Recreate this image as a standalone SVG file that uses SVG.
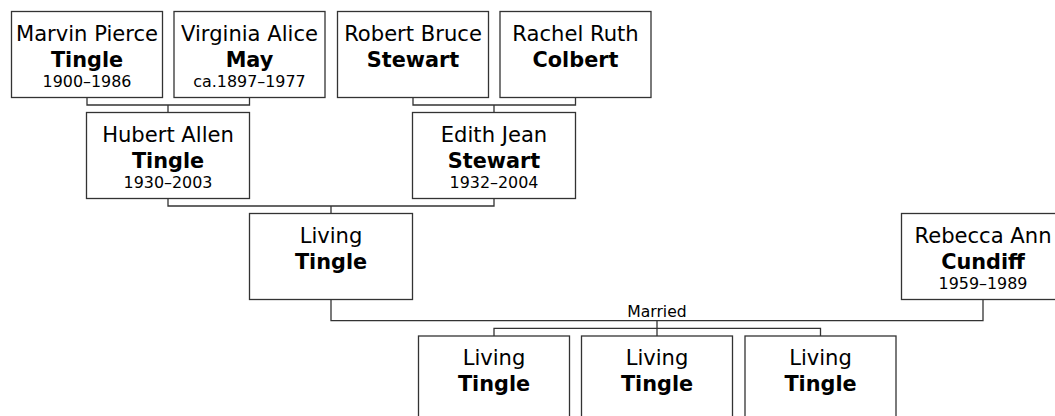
<svg xmlns="http://www.w3.org/2000/svg" width="1055" height="416" viewBox="0 0 1055 416">
<style>
.box{fill:#fff;stroke:#333;stroke-width:1.3}
.ln{fill:none;stroke:#333;stroke-width:1.3}
text{font-family:"DejaVu Sans",Verdana,sans-serif;fill:#000;text-anchor:middle}
.n{font-size:21.1px}
.s{font-size:20.8px;font-weight:bold}
.d{font-size:15.9px}
.m{font-size:15.6px}
</style>
<rect width="1055" height="416" fill="#fff"/>
<g id="connectors">
<path class="ln" d="M87 97.5V105H249.5V97.5M168 105V112.5"/>
<path class="ln" d="M413 97.5V105H575.5V97.5M494 105V112.5"/>
<path class="ln" d="M168 198.5V206H494V198.5M331 206V213.5"/>
<path class="ln" d="M331 299.5V320.7H983V299.5"/>
<path class="ln" d="M657 320.7V336M494 336V328.3H820.5V336"/>
<text class="m" x="657" y="316.5">Married</text>
</g>
<g id="marvin">
<rect class="box" x="11.5" y="11.5" width="151" height="86"/>
<text class="n" x="87" y="40.7">Marvin Pierce</text>
<text class="s" x="87" y="66.8">Tingle</text>
<text class="d" x="87" y="87.2">1900–1986</text>
</g>
<g id="virginia">
<rect class="box" x="174" y="11.5" width="151" height="86"/>
<text class="n" x="249.5" y="40.7">Virginia Alice</text>
<text class="s" x="249.5" y="66.8">May</text>
<text class="d" x="249.5" y="87.2">ca.1897–1977</text>
</g>
<g id="robert">
<rect class="box" x="337.5" y="11.5" width="151" height="86"/>
<text class="n" x="413" y="40.7">Robert Bruce</text>
<text class="s" x="413" y="66.8">Stewart</text>
</g>
<g id="rachel">
<rect class="box" x="500" y="11.5" width="151" height="86"/>
<text class="n" x="575.5" y="40.7">Rachel Ruth</text>
<text class="s" x="575.5" y="66.8">Colbert</text>
</g>
<g id="hubert">
<rect class="box" x="86.5" y="112.5" width="163" height="86"/>
<text class="n" x="168" y="141.7">Hubert Allen</text>
<text class="s" x="168" y="167.8">Tingle</text>
<text class="d" x="168" y="188.2">1930–2003</text>
</g>
<g id="edith">
<rect class="box" x="412.5" y="112.5" width="163" height="86"/>
<text class="n" x="494" y="141.7">Edith Jean</text>
<text class="s" x="494" y="167.8">Stewart</text>
<text class="d" x="494" y="188.2">1932–2004</text>
</g>
<g id="living">
<rect class="box" x="249.5" y="213.5" width="163" height="86"/>
<text class="n" x="331" y="242.7">Living</text>
<text class="s" x="331" y="268.8">Tingle</text>
</g>
<g id="rebecca">
<rect class="box" x="901.5" y="213.5" width="163" height="86"/>
<text class="n" x="983" y="242.7">Rebecca Ann</text>
<text class="s" x="983" y="268.8">Cundiff</text>
<text class="d" x="983" y="289.2">1959–1989</text>
</g>
<g id="child1">
<rect class="box" x="418.5" y="336" width="151" height="86"/>
<text class="n" x="494" y="365.2">Living</text>
<text class="s" x="494" y="391.3">Tingle</text>
</g>
<g id="child2">
<rect class="box" x="581.5" y="336" width="151" height="86"/>
<text class="n" x="657" y="365.2">Living</text>
<text class="s" x="657" y="391.3">Tingle</text>
</g>
<g id="child3">
<rect class="box" x="745" y="336" width="151" height="86"/>
<text class="n" x="820.5" y="365.2">Living</text>
<text class="s" x="820.5" y="391.3">Tingle</text>
</g>
</svg>
